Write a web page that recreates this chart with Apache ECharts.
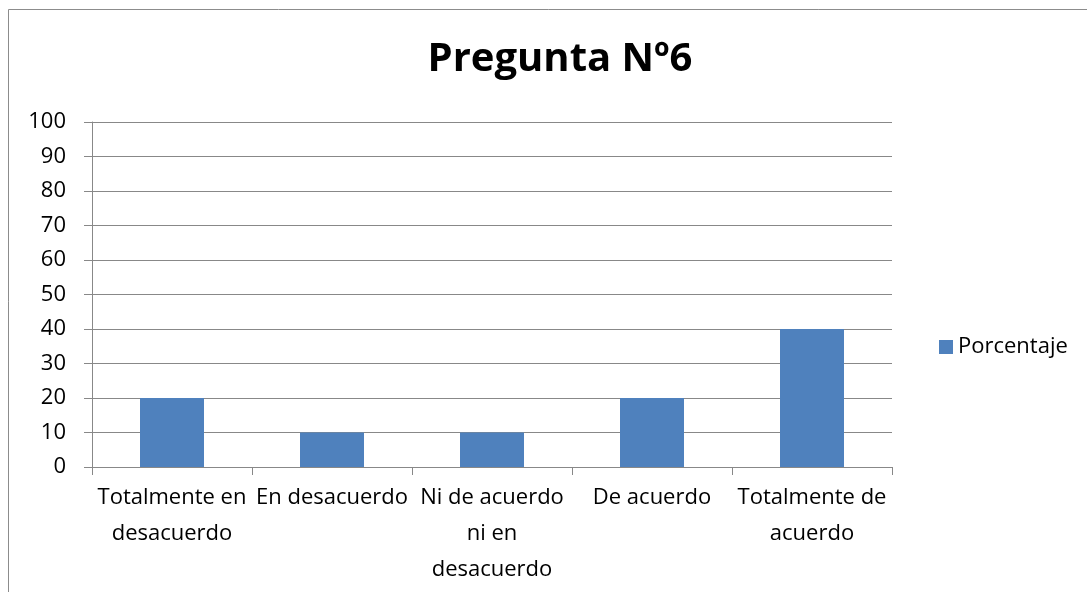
<!DOCTYPE html>
<html>
<head>
<meta charset="utf-8">
<script src="https://cdn.jsdelivr.net/npm/echarts@6/dist/echarts.min.js"></script>
<style>
  html, body { margin: 0; padding: 0; background: #fff; }
  #chart { width: 1087px; height: 592px; }
</style>
</head>
<body>
<div id="chart"></div>
<script>
const titleText = 'Pregunta Nº6'
const seriesName = 'Porcentaje'
const categories = [
  'Totalmente en\ndesacuerdo',
  'En desacuerdo',
  'Ni de acuerdo\nni en\ndesacuerdo',
  'De acuerdo',
  'Totalmente de\nacuerdo'
]
const values = [20, 10, 10, 20, 40]

const font = '"Open Sans", Lato, sans-serif'
const gray = '#888888'

const chart = echarts.init(document.getElementById('chart'))
chart.setOption({
  animation: false,
  backgroundColor: '#fff',
  graphic: [{
    type: 'rect',
    shape: { x: 8.5, y: 9.5, width: 1200, height: 700 },
    style: { fill: 'none', stroke: '#8c8c8c', lineWidth: 1 },
    silent: true
  }],
  title: {
    text: titleText,
    left: 555,
    textAlign: 'center',
    top: 35,
    textStyle: { fontFamily: font, fontWeight: 'bold', fontSize: 40, color: '#000' }
  },
  legend: {
    data: [seriesName],
    left: 934,
    top: 331,
    itemWidth: 14,
    itemHeight: 14,
    itemGap: 8,
    icon: 'rect',
    textStyle: { fontFamily: font, fontSize: 22, color: '#000' }
  },
  grid: {
    left: 92,
    right: 195,
    top: 122,
    bottom: 125,
    containLabel: false
  },
  xAxis: {
    type: 'category',
    data: categories,
    axisLine: { lineStyle: { color: gray, width: 1 } },
    axisTick: { show: true, length: 8, lineStyle: { color: gray } },
    axisLabel: {
      interval: 0,
      margin: 13,
      lineHeight: 36,
      color: '#000',
      fontFamily: font,
      fontSize: 22
    }
  },
  yAxis: {
    type: 'value',
    min: 0,
    max: 100,
    interval: 10,
    axisLine: { show: true, lineStyle: { color: gray, width: 1 } },
    axisTick: { show: true, length: 8, lineStyle: { color: gray } },
    axisLabel: { margin: 26, color: '#000', fontFamily: font, fontSize: 22 },
    splitLine: { show: true, lineStyle: { color: gray, width: 1 } }
  },
  series: [{
    name: seriesName,
    type: 'bar',
    data: values,
    barWidth: '40%',
    itemStyle: { color: '#4F81BD' }
  }]
})
</script>
</body>
</html>
